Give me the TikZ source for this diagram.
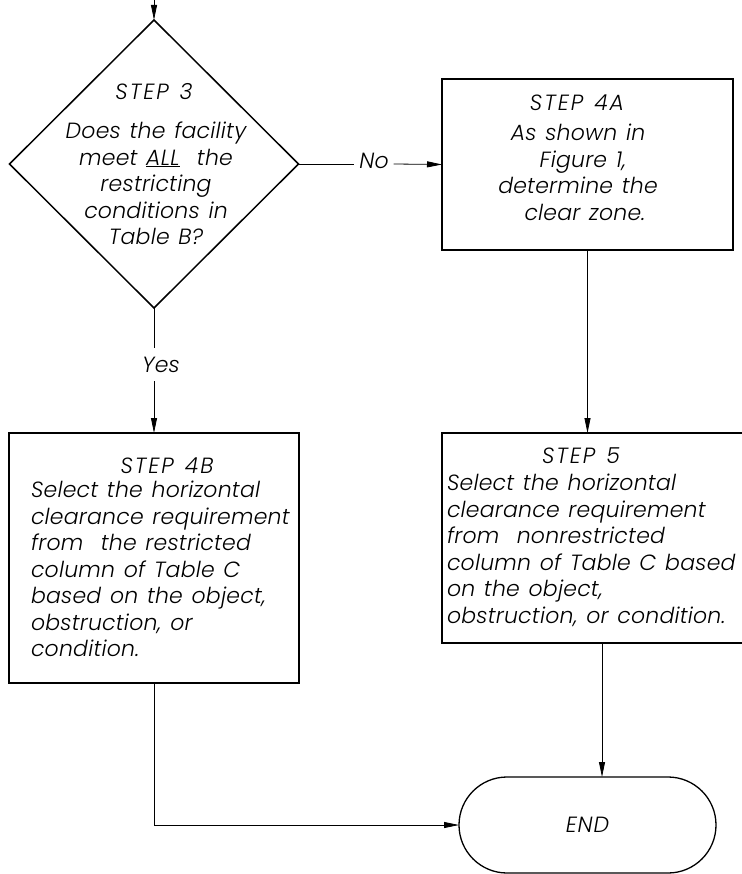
\documentclass[tikz,border=0pt]{standalone}
\usepackage{fontspec}
\setmainfont{DejaVu Sans}
\IfFontExistsTF{Poppins Light Italic}{%
  \newfontfamily\cadfont{Poppins Light Italic}[LetterSpace=1,WordSpace=1.3]\def\cadsize{22}%
}{%
  \IfFontExistsTF{Fira Sans Light Italic}{%
    \newfontfamily\cadfont{Fira Sans Light Italic}[LetterSpace=6]\def\cadsize{23}%
  }{%
    \newfontfamily\cadfont{DejaVu Sans Oblique}[LetterSpace=2.5]\def\cadsize{22}%
  }%
}
\usetikzlibrary{arrows.meta,shapes.geometric,shapes.misc}
\begin{document}
\begin{tikzpicture}[x=1pt,y=-1pt,
  every node/.style={inner sep=0pt, outer sep=0pt, font=\cadfont\fontsize{\cadsize}{26.5}\selectfont},
  head/.style={anchor=base, font=\cadfont\fontsize{\cadsize}{26.5}\selectfont\addfontfeatures{LetterSpace=9}},
  boxst/.style={draw, line width=1.6pt, rectangle},
  diast/.style={draw, line width=1.5pt, diamond, aspect=1, minimum width=289pt, minimum height=288pt},
  endst/.style={draw, line width=1.3pt, rounded rectangle, minimum width=257pt, minimum height=96pt},
  conn/.style={line width=0.8pt},
  arr/.style={conn, -{Triangle[length=15pt,width=6pt]}},
  txt/.style={align=center, anchor=north},
  ltxt/.style={align=left, anchor=north west}]
\useasboundingbox (0,0) rectangle (741,874);

% shapes
\node[diast] (d3) at (154,164) {};
\node[boxst, minimum width=291pt, minimum height=171pt] (s4a) at (587.5,164.5) {};
\node[boxst, minimum width=290pt, minimum height=250pt] (s4b) at (154,558) {};
\node[boxst, minimum width=320pt, minimum height=210pt] (s5) at (602,538) {};
\node[endst] (fin) at (587.5,825) {\addfontfeatures{LetterSpace=4}END};

% texts
\node[head] (h3) at (154,100) {STEP 3};
\node[txt] (t3) at (156,122) {Does the facility\\meet \underline{ALL}\ \ the\\restricting\\conditions in\\Table B?};
\node[head] (h4a) at (577,111) {STEP 4A};
\node[txt] (t4a) at (578,124) {As shown in\\\hspace{10pt}Figure 1,\\determine the\\\hspace{14pt}clear zone.};
\node[head] (h4b) at (167,473) {STEP 4B};
\node[ltxt] (t4b) at (31,481) {Select the horizontal\\clearance requirement\\from\ \ the restricted\\column of Table C\\based on the object,\\obstruction, or\\condition.};
\node[head] (h5) at (581,463) {STEP 5};
\node[ltxt] (t5) at (447,474) {Select the horizontal\\clearance requirement\\from\ \ nonrestricted\\column of Table C based\\on the object,\\obstruction, or condition.};

% labels
\node[anchor=base, inner xsep=5pt] (no) at (374,169) {No};
\node[anchor=base, inner ysep=9pt] (yes) at (161,372) {Yes};

% connectors
\coordinate (in) at (154,0);
\draw[arr] (in) -- (d3.north);
\draw[conn] (d3.east) -- (d3.east -| no.west);
\draw[arr] (d3.east -| no.east) -- (s4a.west);
\draw[conn] (d3.south) -- (d3.south |- yes.north);
\draw[arr] (d3.south |- yes.south) -- (s4b.north);
\draw[arr] (s4a.south) -- (s4a.south |- s5.north);
\draw[arr] (s5.south) -- (s5.south |- fin.north);
\draw[arr] (s4b.south) -- (s4b.south |- fin.west) -- (fin.west);
\end{tikzpicture}
\end{document}
